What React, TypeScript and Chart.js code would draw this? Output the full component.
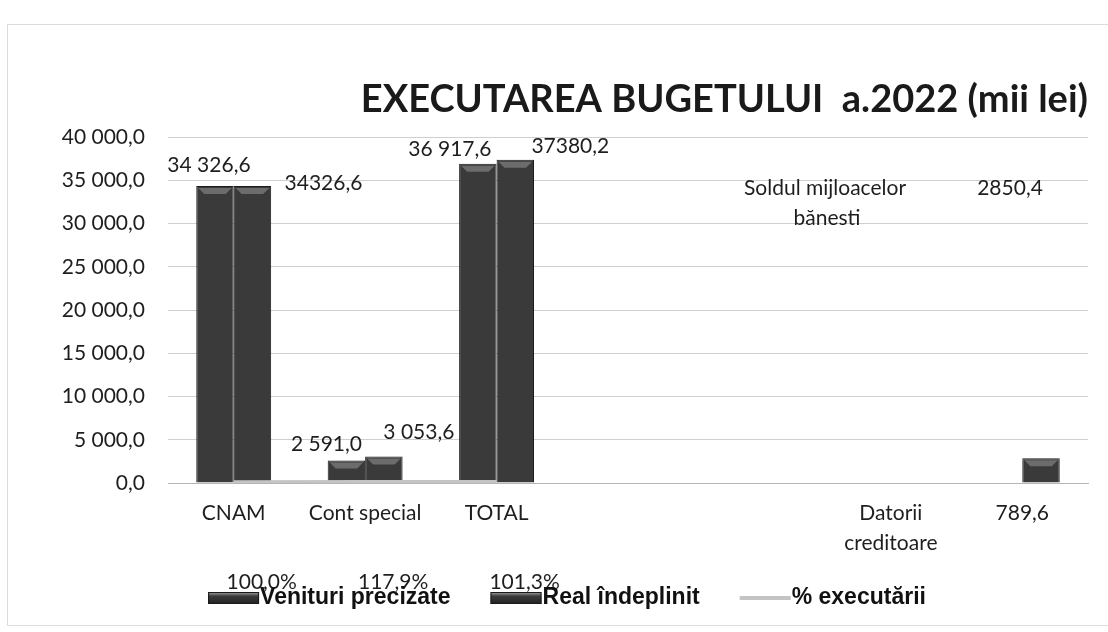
import React, { useEffect, useRef } from "react";
import { Chart, registerables } from "chart.js";

Chart.register(...registerables);

const TITLE = "EXECUTAREA BUGETULUI  a.2022 (mii lei)";
const categories: (string | string[])[] = ["CNAM", "Cont special", "TOTAL", "", "", ["Datorii", "creditoare"], "789,6"];
const venituriPrecizate: (number | null)[] = [34326.6, 2591.0, 36917.6, null, null, null, null];
const realIndeplinit: (number | null)[] = [34326.6, 3053.6, 37380.2, null, null, null, 2850.4];
const executare: (number | null)[] = [100.0, 117.9, 101.3, null, null, null, null];
const venituriLabels = ["34 326,6", "2 591,0", "36 917,6", "", "", "", ""];
const realLabels = ["34326,6", "3 053,6", "37380,2", "", "", "", "2850,4"];
const executareLabels = ["100,0%", "117,9%", "101,3%", "", "", "", ""];
const soldLabel = ["Soldul mijloacelor", "bănesti"];
const seriesNames = ["Venituri precizate", "Real îndeplinit", "% executării"];
const Y_MIN = 0;
const Y_MAX = 40000;
const Y_STEP = 5000;

const FONT = "Lato, 'Open Sans', sans-serif";
const LEGEND_FONT = "bold 23px 'Liberation Sans Narrow', 'Arial Narrow', 'Liberation Sans', sans-serif";

// label placement offsets (styling only), [dx, dy] from bar center / bar top
const venOffsets = [[-6, -21], [-20, -16], [-28, -14]];
const realOffsets = [[71, -3], [35, -24], [55, -13], [0, 0], [0, 0], [0, 0], [-31, -270]];

function fmtTick(v: number): string {
  const s = v.toFixed(1).replace(".", ",");
  const [i, d] = s.split(",");
  return i.replace(/\B(?=(\d{3})+(?!\d))/g, " ") + "," + d;
}

function barGradient(ctx: CanvasRenderingContext2D, x: number, w: number) {
  const g = ctx.createLinearGradient(x - w / 2, 0, x + w / 2, 0);
  g.addColorStop(0, "#2a2a2a");
  g.addColorStop(0.5, "#474747");
  g.addColorStop(1, "#2a2a2a");
  return g;
}

const decorPlugin = {
  id: "decor",
  beforeDraw(chart: any) {
    const ctx = chart.ctx as CanvasRenderingContext2D;
    ctx.save();
    ctx.fillStyle = "#ffffff";
    ctx.fillRect(0, 0, chart.width, chart.height);
    ctx.strokeStyle = "#dcdcdc";
    ctx.lineWidth = 1;
    ctx.strokeRect(7.5, 24.5, chart.width, 601);
    ctx.restore();
  },
  afterDatasetsDraw(chart: any) {
    const ctx = chart.ctx as CanvasRenderingContext2D;
    const area = chart.chartArea;
    ctx.save();
    // bevel highlights on bars
    [0, 1].forEach((di) => {
      const meta = chart.getDatasetMeta(di);
      meta.data.forEach((bar: any, i: number) => {
        const vals = di === 0 ? venituriPrecizate : realIndeplinit;
        if (vals[i] == null) return;
        const w = bar.width;
        const l = bar.x - w / 2 + 2;
        const r = bar.x + w / 2 - 2;
        const t = bar.y + 2;
        ctx.fillStyle = "rgba(150,150,150,0.55)";
        ctx.beginPath();
        ctx.moveTo(l, t);
        ctx.lineTo(r, t);
        ctx.lineTo(r - 6, t + 6);
        ctx.lineTo(l + 6, t + 6);
        ctx.closePath();
        ctx.fill();
      });
    });
    // title
    ctx.fillStyle = "#1a1a1a";
    ctx.font = `bold 38px ${FONT}`;
    ctx.textAlign = "right";
    ctx.textBaseline = "middle";
    ctx.fillText(TITLE, area.right, 100);

    // data labels
    ctx.font = `21px ${FONT}`;
    ctx.fillStyle = "#1e1e1e";
    ctx.textAlign = "center";
    const m0 = chart.getDatasetMeta(0);
    m0.data.forEach((bar: any, i: number) => {
      if (!venituriLabels[i] || !venOffsets[i]) return;
      ctx.fillText(venituriLabels[i], bar.x + venOffsets[i][0], bar.y + venOffsets[i][1]);
    });
    const m1 = chart.getDatasetMeta(1);
    m1.data.forEach((bar: any, i: number) => {
      if (!realLabels[i] || !realOffsets[i]) return;
      const x = bar.x + realOffsets[i][0];
      const y = bar.y + realOffsets[i][1];
      ctx.fillText(realLabels[i], x, y);
      if (i === 6) {
        ctx.fillText(soldLabel[0], bar.x - 216, y);
        ctx.fillText(soldLabel[1], bar.x - 214, y + 30);
      }
    });
    const m2 = chart.getDatasetMeta(2);
    m2.data.forEach((pt: any, i: number) => {
      if (!executareLabels[i]) return;
      ctx.fillText(executareLabels[i], pt.x + 28, pt.y + 100);
    });

    // legend
    ctx.font = LEGEND_FONT;
    ctx.textAlign = "left";
    const boxW = 51;
    const gap = 1;
    const spacing = 40;
    const widths = seriesNames.map((n) => boxW + gap + ctx.measureText(n).width);
    const total = widths.reduce((a, b) => a + b, 0) + spacing * (seriesNames.length - 1);
    let x = 567 - total / 2;
    const ly = 598;
    seriesNames.forEach((n, i) => {
      if (i < 2) {
        const g = ctx.createLinearGradient(0, ly - 6, 0, ly + 6);
        g.addColorStop(0, "#a8a8a8");
        g.addColorStop(0.35, "#3a3a3a");
        g.addColorStop(1, "#222222");
        ctx.fillStyle = g;
        ctx.fillRect(x, ly - 6, boxW, 12);
        ctx.strokeStyle = "#1a1a1a";
        ctx.lineWidth = 1;
        ctx.strokeRect(x + 0.5, ly - 5.5, boxW - 1, 11);
      } else {
        ctx.strokeStyle = "#c4c4c4";
        ctx.lineWidth = 4;
        ctx.beginPath();
        ctx.moveTo(x, ly);
        ctx.lineTo(x + boxW, ly);
        ctx.stroke();
      }
      ctx.fillStyle = "#111111";
      ctx.fillText(n, x + boxW + gap, ly);
      x += widths[i] + spacing;
    });
    ctx.restore();
  },
};

export default function App() {
  const ref = useRef<HTMLCanvasElement | null>(null);
  useEffect(() => {
    if (!ref.current) return;
    const chart = new Chart(ref.current, {
      type: "bar",
      data: {
        labels: categories,
        datasets: [
          {
            type: "bar",
            label: seriesNames[0],
            data: venituriPrecizate,
            backgroundColor: (c: any) => {
              const el = c.chart.getDatasetMeta(c.datasetIndex).data[c.dataIndex];
              return el && el.width ? barGradient(c.chart.ctx, el.x, el.width) : "#3a3a3a";
            },
            borderColor: "#1c1c1c",
            borderWidth: 1,
            categoryPercentage: 0.57,
            barPercentage: 1.0,
            order: 2,
          },
          {
            type: "bar",
            label: seriesNames[1],
            data: realIndeplinit,
            backgroundColor: (c: any) => {
              const el = c.chart.getDatasetMeta(c.datasetIndex).data[c.dataIndex];
              return el && el.width ? barGradient(c.chart.ctx, el.x, el.width) : "#3a3a3a";
            },
            borderColor: "#1c1c1c",
            borderWidth: 1,
            categoryPercentage: 0.57,
            barPercentage: 1.0,
            order: 2,
          },
          {
            type: "line",
            label: seriesNames[2],
            data: executare,
            borderColor: "#c4c4c4",
            borderWidth: 4,
            pointRadius: 0,
            spanGaps: false,
            order: 1,
          } as any,
        ],
      },
      options: {
        responsive: false,
        animation: false,
        layout: { padding: { top: 137, right: 20, bottom: 0, left: 0 } },
        plugins: {
          legend: { display: false },
          title: { display: false },
          tooltip: { enabled: false },
        },
        scales: {
          x: {
            grid: { display: false, drawTicks: false },
            border: { display: true, color: "#b5b5b5", width: 1 },
            ticks: {
              color: "#1e1e1e",
              font: { family: FONT, size: 21, lineHeight: 1.45 },
              padding: 15,
              maxRotation: 0,
              autoSkip: false,
            },
            afterFit: (s: any) => {
              s.height = 149;
            },
          },
          y: {
            min: Y_MIN,
            max: Y_MAX,
            grid: { color: "#cfcfcf", lineWidth: 1, drawTicks: false },
            border: { display: false },
            ticks: {
              stepSize: Y_STEP,
              color: "#1e1e1e",
              font: { family: FONT, size: 21 },
              padding: 23,
              callback: (v: any) => fmtTick(Number(v)),
            },
            afterFit: (s: any) => {
              s.width = 168;
            },
          },
        },
      },
      plugins: [decorPlugin],
    } as any);
    return () => chart.destroy();
  }, []);
  return (
    <div style={{ position: "fixed", left: 0, top: 0, width: 1108, height: 632, background: "#fff" }}>
      <canvas ref={ref} width={1108} height={632} style={{ display: "block" }} />
    </div>
  );
}
